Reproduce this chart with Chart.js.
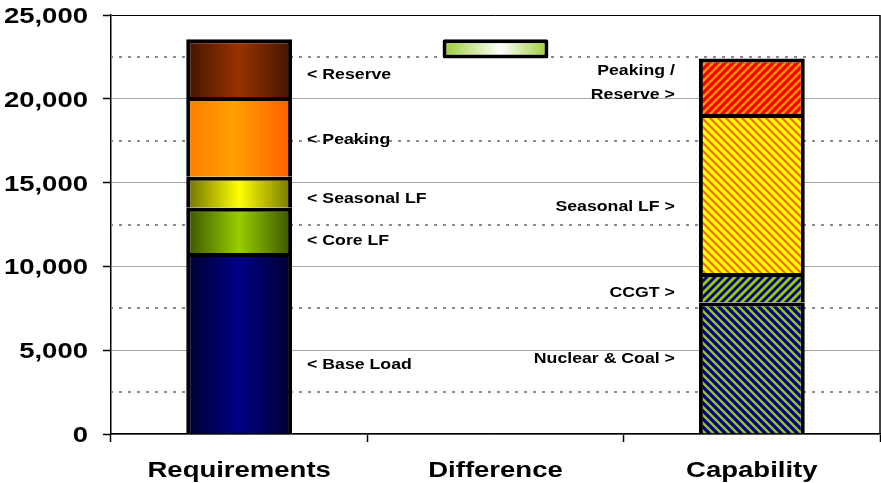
<!DOCTYPE html>
<html>
<head>
<meta charset="utf-8">
<title>Requirements vs Capability</title>
<script src="https://cdn.jsdelivr.net/npm/chart.js@4/dist/chart.umd.min.js"></script>
<style>
  html, body { margin: 0; padding: 0; background: #fff; overflow: hidden; }
  canvas { display: block; }
</style>
</head>
<body>
<canvas id="chart" width="881" height="483"></canvas>
<script>
const categories = ['Requirements', 'Difference', 'Capability'];

// Requirements stack, bottom to top
const reqLabels = ['Base Load', 'Core LF', 'Seasonal LF', 'Peaking', 'Reserve'];
const reqValues = [10800, 2700, 1850, 4750, 3450];

// Capability stack, bottom to top
const capLabels = ['Nuclear & Coal', 'CCGT', 'Seasonal LF', 'Peaking / Reserve'];
const capValues = [7850, 1750, 9500, 3300];

// Difference bar: from capability total up to requirements total
const diffRange = [22400, 23550];

const yTicks = [0, 5000, 10000, 15000, 20000, 25000];
const yMinorTicks = [2500, 7500, 12500, 17500, 22500];

const BAR_PCT = 0.413;
const FONT = '"Liberation Sans", Arial, sans-serif';

function hGradient(stops) {
    return function (context) {
        const chart = context.chart;
        const x = chart.scales.x;
        if (!chart.chartArea || !x || context.dataIndex === undefined) {
            return stops[Math.floor(stops.length / 2)][1];
        }
        const cx = x.getPixelForValue(context.dataIndex);
        const half = (x.width / categories.length) * BAR_PCT / 2;
        const g = chart.ctx.createLinearGradient(cx - half, 0, cx + half, 0);
        stops.forEach(s => g.addColorStop(s[0], s[1]));
        return g;
    };
}

function stripes(bg, fg, dir, w) {
    const c = document.createElement('canvas');
    c.width = 8;
    c.height = 8;
    const g = c.getContext('2d');
    g.fillStyle = bg;
    g.fillRect(0, 0, 8, 8);
    g.strokeStyle = fg;
    g.lineWidth = w;
    g.beginPath();
    for (let k = -8; k <= 16; k += 8) {
        if (dir === '/') {
            g.moveTo(k + 8, -8);
            g.lineTo(k - 16, 16);
        } else {
            g.moveTo(k - 8, -8);
            g.lineTo(k + 16, 16);
        }
    }
    g.stroke();
    return g.createPattern(c, 'repeat');
}

const reqFills = [
    hGradient([[0, '#000030'], [0.5, '#000085'], [1, '#000030']]),
    hGradient([[0, '#385400'], [0.5, '#99cc00'], [1, '#385400']]),
    hGradient([[0, '#6e6e00'], [0.5, '#ffff00'], [1, '#757500']]),
    hGradient([[0, '#ff7c00'], [0.45, '#ffa000'], [1, '#ff5c00']]),
    hGradient([[0, '#421400'], [0.5, '#993300'], [1, '#421400']])
];
const capFills = [
    stripes('#000080', '#99cc00', '\\', 2.3),
    stripes('#99cc00', '#000080', '/', 2.8),
    stripes('#ffff00', '#ff6600', '\\', 2.1),
    stripes('#ff0000', '#ff9900', '/', 2.3)
];
const diffFill = hGradient([[0, '#99cc33'], [0.55, '#ffffff'], [1, '#99cc33']]);

const datasets = [];
reqLabels.forEach((name, i) => {
    datasets.push({
        label: name,
        data: [reqValues[i], null, null],
        backgroundColor: reqFills[i],
        borderColor: '#000',
        borderWidth: 4
    });
});
capLabels.forEach((name, i) => {
    datasets.push({
        label: name,
        data: [null, null, capValues[i]],
        backgroundColor: capFills[i],
        borderColor: '#000',
        borderWidth: 4
    });
});
datasets.push({
    label: 'Difference',
    data: [null, diffRange, null],
    backgroundColor: diffFill,
    borderColor: '#000',
    borderWidth: 4,
    borderSkipped: false,
    borderRadius: 2
});

// where the side notes sit, in axis units
const reqNoteAt = [4200, 11600, 14100, 17600, 21500];
const capNotes = [['Nuclear & Coal >'], ['CCGT >'], ['Seasonal LF >'], ['Peaking /', 'Reserve >']];
const capNoteAt = [4550, 8500, 13600, 21000];

function stretchText(ctx, text, x, y, size, sx, align) {
    ctx.save();
    ctx.translate(x, y);
    ctx.scale(sx, 1);
    ctx.font = 'bold ' + size + 'px ' + FONT;
    ctx.textAlign = align;
    ctx.textBaseline = 'alphabetic';
    ctx.fillText(text, 0, 0);
    ctx.restore();
}

const overlay = {
    id: 'overlay',
    beforeDatasetsDraw(chart) {
        const { ctx, chartArea: a, scales: { y } } = chart;
        ctx.save();
        ctx.strokeStyle = '#8c8c8c';
        ctx.lineWidth = 2;
        ctx.setLineDash([3, 6]);
        ctx.lineDashOffset = -8;
        yMinorTicks.forEach(v => {
            const py = Math.round(y.getPixelForValue(v));
            ctx.beginPath();
            ctx.moveTo(a.left, py);
            ctx.lineTo(a.right, py);
            ctx.stroke();
        });
        ctx.restore();
    },
    afterDraw(chart) {
        const { ctx, chartArea: a, scales: { x, y } } = chart;
        ctx.save();
        ctx.strokeStyle = '#000';
        ctx.lineWidth = 1.5;
        ctx.beginPath();
        ctx.moveTo(a.right, a.top);
        ctx.lineTo(a.right, a.bottom);
        ctx.stroke();

        ctx.fillStyle = '#000';
        y.ticks.forEach(t => {
            stretchText(ctx, t.value.toLocaleString('en-US'), a.left - 23,
                y.getPixelForValue(t.value) + 8, 22, 1.25, 'right');
        });
        chart.data.labels.forEach((lab, i) => {
            stretchText(ctx, lab, x.getPixelForValue(i), a.bottom + 43, 22, 1.25, 'center');
        });

        const reqBar = chart.getDatasetMeta(0).data[0];
        const reqRight = reqBar.x + reqBar.width / 2;
        reqLabels.forEach((name, i) => {
            stretchText(ctx, '< ' + name, reqRight + 15,
                y.getPixelForValue(reqNoteAt[i]) + 5, 14.5, 1.22, 'left');
        });

        const capBar = chart.getDatasetMeta(reqLabels.length).data[2];
        const capLeft = capBar.x - capBar.width / 2;
        capNotes.forEach((lines, i) => {
            const cy = y.getPixelForValue(capNoteAt[i]);
            lines.forEach((txt, j) => {
                const ly = cy + (j - (lines.length - 1) / 2) * 23.5;
                stretchText(ctx, txt, capLeft - 24, ly + 5, 14.5, 1.22, 'right');
            });
        });
        ctx.restore();
    }
};

const ctx = document.getElementById('chart').getContext('2d');
new Chart(ctx, {
    type: 'bar',
    data: {
        labels: categories,
        datasets: datasets
    },
    options: {
        responsive: false,
        animation: false,
        events: [],
        barPercentage: BAR_PCT,
        categoryPercentage: 1,
        layout: {
            padding: { left: 103, right: 1, top: 15, bottom: 41 }
        },
        plugins: {
            legend: { display: false },
            tooltip: { enabled: false }
        },
        scales: {
            x: {
                stacked: true,
                offset: true,
                ticks: { display: false },
                grid: {
                    offset: true,
                    drawOnChartArea: false,
                    drawTicks: true,
                    tickLength: 8,
                    tickColor: '#000',
                    tickWidth: 1.5
                },
                border: { color: '#000', width: 1.5 }
            },
            y: {
                stacked: true,
                min: yTicks[0],
                max: yTicks[yTicks.length - 1],
                afterBuildTicks: function (scale) {
                    scale.ticks = yTicks.map(v => ({ value: v }));
                },
                ticks: { display: false },
                grid: {
                    color: function (context) {
                        return context.tick && context.tick.value === 25000 ? '#000' : '#a6a6a6';
                    },
                    lineWidth: 1,
                    drawTicks: true,
                    tickLength: 8,
                    tickColor: '#000',
                    tickWidth: 1.5
                },
                border: { color: '#000', width: 1.5 }
            }
        }
    },
    plugins: [overlay]
});
</script>
</body>
</html>
